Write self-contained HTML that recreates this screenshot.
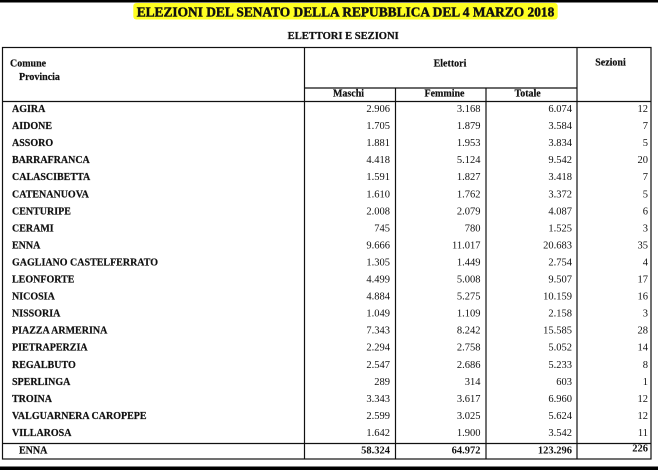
<!DOCTYPE html>
<html>
<head>
<meta charset="utf-8">
<style>
html,body{margin:0;padding:0;background:#fff;}
svg{display:block;}
text{font-family:"Liberation Serif",serif;fill:#111;}
.b{font-weight:bold;}
.n{font-size:10.5px;text-anchor:end;}
.nm{font-size:10px;font-weight:bold;stroke:#111;stroke-width:0.2;}
.t{stroke:#111;stroke-width:0.45;}
</style>
</head>
<body>
<svg width="658" height="470" viewBox="0 0 658 470" xmlns="http://www.w3.org/2000/svg">
<rect x="0" y="0" width="658" height="470" fill="#fff"/>
<rect x="0" y="0" width="658" height="2.5" fill="#000"/>
<rect x="0" y="466.5" width="658" height="3.5" fill="#000"/>

<rect x="133.3" y="3" width="424.4" height="16.5" rx="3" fill="#ffff22"/>
<text x="136.7" y="16.7" class="b t" font-size="14" textLength="417.6" lengthAdjust="spacingAndGlyphs">ELEZIONI DEL SENATO DELLA REPUBBLICA DEL 4 MARZO 2018</text>
<text x="287.7" y="39" class="b" font-size="10.5" stroke="#111" stroke-width="0.25" textLength="111" lengthAdjust="spacingAndGlyphs">ELETTORI E SEZIONI</text>

<g stroke="#111" stroke-width="1.2" fill="none">
<rect x="2.5" y="47.5" width="648.5" height="411.5"/>
<line x1="2.5" y1="101.5" x2="651" y2="101.5"/>
<line x1="304.5" y1="88" x2="577" y2="88"/>
<line x1="304.5" y1="47.5" x2="304.5" y2="459"/>
<line x1="577" y1="47.5" x2="577" y2="459"/>
<line x1="395.5" y1="88" x2="395.5" y2="459"/>
<line x1="486" y1="88" x2="486" y2="459"/>
<line x1="2.5" y1="443.5" x2="651" y2="443.5"/>
</g>

<text x="10" y="66.5" class="nm">Comune</text>
<text x="19" y="80" class="nm">Provincia</text>
<text x="450" y="66.5" class="nm" text-anchor="middle">Elettori</text>
<text x="610.5" y="65.5" class="nm" text-anchor="middle">Sezioni</text>
<text x="348.5" y="96.7" class="nm" text-anchor="middle">Maschi</text>
<text x="444.5" y="96.7" class="nm" text-anchor="middle">Femmine</text>
<text x="527.6" y="96.7" class="nm" text-anchor="middle">Totale</text>

<g>
<text x="12" y="112" class="nm">AGIRA</text>
<text x="390" y="112" class="n">2.906</text><text x="480.5" y="112" class="n">3.168</text><text x="572" y="112" class="n">6.074</text><text x="648" y="112" class="n">12</text>

<text x="12" y="129.05" class="nm">AIDONE</text>
<text x="390" y="129.05" class="n">1.705</text><text x="480.5" y="129.05" class="n">1.879</text><text x="572" y="129.05" class="n">3.584</text><text x="648" y="129.05" class="n">7</text>

<text x="12" y="146.1" class="nm">ASSORO</text>
<text x="390" y="146.1" class="n">1.881</text><text x="480.5" y="146.1" class="n">1.953</text><text x="572" y="146.1" class="n">3.834</text><text x="648" y="146.1" class="n">5</text>

<text x="12" y="163.15" class="nm">BARRAFRANCA</text>
<text x="390" y="163.15" class="n">4.418</text><text x="480.5" y="163.15" class="n">5.124</text><text x="572" y="163.15" class="n">9.542</text><text x="648" y="163.15" class="n">20</text>

<text x="12" y="180.2" class="nm">CALASCIBETTA</text>
<text x="390" y="180.2" class="n">1.591</text><text x="480.5" y="180.2" class="n">1.827</text><text x="572" y="180.2" class="n">3.418</text><text x="648" y="180.2" class="n">7</text>

<text x="12" y="197.25" class="nm">CATENANUOVA</text>
<text x="390" y="197.25" class="n">1.610</text><text x="480.5" y="197.25" class="n">1.762</text><text x="572" y="197.25" class="n">3.372</text><text x="648" y="197.25" class="n">5</text>

<text x="12" y="214.3" class="nm">CENTURIPE</text>
<text x="390" y="214.3" class="n">2.008</text><text x="480.5" y="214.3" class="n">2.079</text><text x="572" y="214.3" class="n">4.087</text><text x="648" y="214.3" class="n">6</text>

<text x="12" y="231.35" class="nm">CERAMI</text>
<text x="390" y="231.35" class="n">745</text><text x="480.5" y="231.35" class="n">780</text><text x="572" y="231.35" class="n">1.525</text><text x="648" y="231.35" class="n">3</text>

<text x="12" y="248.4" class="nm">ENNA</text>
<text x="390" y="248.4" class="n">9.666</text><text x="480.5" y="248.4" class="n">11.017</text><text x="572" y="248.4" class="n">20.683</text><text x="648" y="248.4" class="n">35</text>

<text x="12" y="265.45" class="nm">GAGLIANO CASTELFERRATO</text>
<text x="390" y="265.45" class="n">1.305</text><text x="480.5" y="265.45" class="n">1.449</text><text x="572" y="265.45" class="n">2.754</text><text x="648" y="265.45" class="n">4</text>

<text x="12" y="282.5" class="nm">LEONFORTE</text>
<text x="390" y="282.5" class="n">4.499</text><text x="480.5" y="282.5" class="n">5.008</text><text x="572" y="282.5" class="n">9.507</text><text x="648" y="282.5" class="n">17</text>

<text x="12" y="299.55" class="nm">NICOSIA</text>
<text x="390" y="299.55" class="n">4.884</text><text x="480.5" y="299.55" class="n">5.275</text><text x="572" y="299.55" class="n">10.159</text><text x="648" y="299.55" class="n">16</text>

<text x="12" y="316.6" class="nm">NISSORIA</text>
<text x="390" y="316.6" class="n">1.049</text><text x="480.5" y="316.6" class="n">1.109</text><text x="572" y="316.6" class="n">2.158</text><text x="648" y="316.6" class="n">3</text>

<text x="12" y="333.65" class="nm">PIAZZA ARMERINA</text>
<text x="390" y="333.65" class="n">7.343</text><text x="480.5" y="333.65" class="n">8.242</text><text x="572" y="333.65" class="n">15.585</text><text x="648" y="333.65" class="n">28</text>

<text x="12" y="350.7" class="nm">PIETRAPERZIA</text>
<text x="390" y="350.7" class="n">2.294</text><text x="480.5" y="350.7" class="n">2.758</text><text x="572" y="350.7" class="n">5.052</text><text x="648" y="350.7" class="n">14</text>

<text x="12" y="367.75" class="nm">REGALBUTO</text>
<text x="390" y="367.75" class="n">2.547</text><text x="480.5" y="367.75" class="n">2.686</text><text x="572" y="367.75" class="n">5.233</text><text x="648" y="367.75" class="n">8</text>

<text x="12" y="384.8" class="nm">SPERLINGA</text>
<text x="390" y="384.8" class="n">289</text><text x="480.5" y="384.8" class="n">314</text><text x="572" y="384.8" class="n">603</text><text x="648" y="384.8" class="n">1</text>

<text x="12" y="401.85" class="nm">TROINA</text>
<text x="390" y="401.85" class="n">3.343</text><text x="480.5" y="401.85" class="n">3.617</text><text x="572" y="401.85" class="n">6.960</text><text x="648" y="401.85" class="n">12</text>

<text x="12" y="418.9" class="nm">VALGUARNERA CAROPEPE</text>
<text x="390" y="418.9" class="n">2.599</text><text x="480.5" y="418.9" class="n">3.025</text><text x="572" y="418.9" class="n">5.624</text><text x="648" y="418.9" class="n">12</text>

<text x="12" y="435.95" class="nm">VILLAROSA</text>
<text x="390" y="435.95" class="n">1.642</text><text x="480.5" y="435.95" class="n">1.900</text><text x="572" y="435.95" class="n">3.542</text><text x="648" y="435.95" class="n">11</text>

<text x="19" y="453.3" class="nm">ENNA</text>
<text x="390" y="453.3" class="n b">58.324</text><text x="480.5" y="453.3" class="n b">64.972</text><text x="572" y="453.3" class="n b">123.296</text><text x="648" y="451.7" class="n b">226</text>
</g>
</svg>
</body>
</html>
